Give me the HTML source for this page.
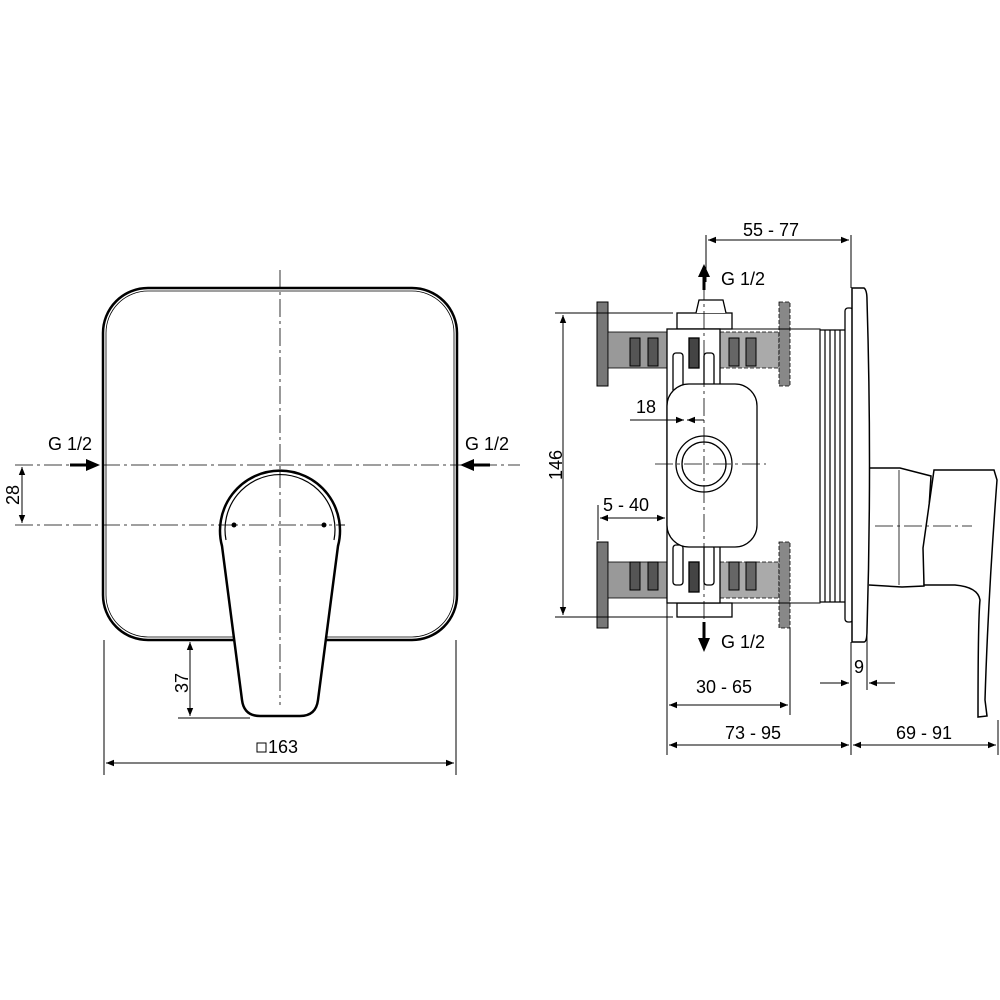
<!DOCTYPE html>
<html><head><meta charset="utf-8"><style>body{margin:0;background:#fff}svg{display:block}text{font-family:"Liberation Sans",sans-serif;font-size:18px;fill:#000}</style></head><body>
<svg width="1000" height="1000" viewBox="0 0 1000 1000" xmlns="http://www.w3.org/2000/svg">
<defs>
<marker id="a" viewBox="0 0 10 10" refX="10" refY="5" markerWidth="11" markerHeight="8" orient="auto-start-reverse" markerUnits="userSpaceOnUse"><path d="M0,1 L10,5 L0,9z" fill="#000"/></marker>
</defs>
<g fill="none" stroke="#000">
<rect x="103" y="288" width="354" height="352" rx="45" stroke-width="2.5"/>
<rect x="106" y="291" width="348" height="346" rx="42" stroke-width="0.8"/>
<g stroke-width="0.8" stroke-dasharray="18,4,3,4">
<line x1="280" y1="270" x2="280" y2="700"/>
<line x1="15" y1="465" x2="520" y2="465"/>
<line x1="15" y1="525" x2="345" y2="525"/>
</g>
<path d="M222,546 A60,60 0 1 1 338,546 L318,700 Q316,716 300,716 L260,716 Q244,716 242,700 Z" fill="#fff" stroke-width="2.5"/>
<path d="M226,540 A55,55 0 1 1 334,540" stroke-width="1.2"/>
<line x1="280" y1="470" x2="280" y2="705" stroke-width="0.8" stroke-dasharray="18,4,3,4"/>
<line x1="220" y1="525" x2="345" y2="525" stroke-width="0.8" stroke-dasharray="18,4,3,4"/>
</g>
<circle cx="234" cy="525" r="2.5"/><circle cx="324" cy="525" r="2.5"/>
<g fill="none" stroke="#000" stroke-width="1">
<line x1="22" y1="467" x2="22" y2="523" marker-start="url(#a)" marker-end="url(#a)"/>
<line x1="178" y1="718" x2="250" y2="718"/>
<line x1="190" y1="642" x2="190" y2="716" marker-start="url(#a)" marker-end="url(#a)"/>
<line x1="104" y1="640" x2="104" y2="775"/><line x1="456" y1="640" x2="456" y2="775"/>
<line x1="106" y1="763" x2="454" y2="763" marker-start="url(#a)" marker-end="url(#a)"/>
</g>
<g stroke="#000" stroke-width="3">
<line x1="70" y1="465" x2="88" y2="465"/><path d="M86,459 L100,465 L86,471z" stroke="none"/>
<line x1="472" y1="465" x2="490" y2="465"/><path d="M474,459 L460,465 L474,471z" stroke="none"/>
</g>
<text x="48" y="450">G 1/2</text><text x="465" y="450">G 1/2</text>
<text x="13" y="501" transform="rotate(-90 13 495)" text-anchor="middle">28</text>
<text x="182" y="689" transform="rotate(-90 182 683)" text-anchor="middle">37</text>
<rect x="257" y="743" width="9" height="9" fill="none" stroke="#000" stroke-width="1"/>
<text x="268" y="753">163</text>

<g stroke="#000">
<rect x="597" y="302" width="11" height="84" fill="#777" stroke-width="1"/>
<rect x="597" y="542" width="11" height="86" fill="#777" stroke-width="1"/>
<rect x="608" y="332" width="59" height="36" fill="#999" stroke-width="0.8"/>
<rect x="608" y="562" width="59" height="36" fill="#999" stroke-width="0.8"/>
<rect x="630" y="338" width="10" height="28" fill="#555"/><rect x="648" y="338" width="10" height="28" fill="#555"/>
<rect x="630" y="562" width="10" height="28" fill="#555"/><rect x="648" y="562" width="10" height="28" fill="#555"/>
<rect x="720" y="332" width="59" height="36" fill="#aaa" stroke-width="0.8" stroke-dasharray="4,2"/>
<rect x="720" y="562" width="59" height="36" fill="#aaa" stroke-width="0.8" stroke-dasharray="4,2"/>
<rect x="729" y="338" width="10" height="28" fill="#666"/><rect x="746" y="338" width="10" height="28" fill="#666"/>
<rect x="729" y="562" width="10" height="28" fill="#666"/><rect x="746" y="562" width="10" height="28" fill="#666"/>
<rect x="779" y="302" width="11" height="84" fill="#888" stroke-width="0.8" stroke-dasharray="4,2"/>
<rect x="779" y="542" width="11" height="86" fill="#888" stroke-width="0.8" stroke-dasharray="4,2"/>
</g>
<g fill="none" stroke="#000" stroke-width="1.3">
<rect x="677" y="313" width="55" height="16" fill="#fff"/>
<path d="M696,313 L699,300 L723,300 L726,313" fill="#fff"/>
<rect x="677" y="603" width="55" height="14" fill="#fff"/>
<rect x="667" y="329" width="53" height="274" fill="#fff"/>
<rect x="720" y="329" width="100" height="274" fill="none" stroke-width="1"/>
<rect x="673" y="353" width="10" height="40" rx="3"/><rect x="704" y="353" width="10" height="40" rx="3"/>
<rect x="673" y="545" width="10" height="40" rx="3"/><rect x="704" y="545" width="10" height="40" rx="3"/>
<rect x="689" y="338" width="10" height="30" fill="#444"/><rect x="689" y="562" width="10" height="30" fill="#444"/>
<rect x="667" y="384" width="90" height="163" rx="22" fill="#fff"/>
<circle cx="704" cy="464" r="28"/><circle cx="704" cy="464" r="22"/>
<g stroke-width="1.2"><line x1="820" y1="330" x2="820" y2="602"/><line x1="825" y1="330" x2="825" y2="602"/><line x1="830" y1="330" x2="830" y2="602"/><line x1="835" y1="330" x2="835" y2="602"/><line x1="840" y1="330" x2="840" y2="602"/><line x1="820" y1="330" x2="845" y2="330"/><line x1="820" y1="602" x2="845" y2="602"/></g>
<rect x="845" y="308" width="8" height="314" rx="3" fill="#fff"/>
<path d="M852,288 L864,288 Q867,290 867,300 Q872,465 867,630 Q867,642 864,642 L852,642 Z" fill="#fff" stroke-width="1.5"/>
<path d="M869,468 L900,468 L931,476 L924,586 L902,587 L869,585" stroke-width="1.5"/>
<line x1="899" y1="470" x2="899" y2="585" stroke-width="0.8"/>
<path d="M934,470 L994,470 L997,480 Q988,600 985,700 L987,716 L978,717 Q978,620 980,600 Q978,587 955,585 L924,585 L923,548 Z" fill="#fff" stroke-width="1.5"/>
</g>
<g stroke="#000" stroke-width="0.8" stroke-dasharray="18,4,3,4" fill="none">
<line x1="704" y1="282" x2="704" y2="635"/>
<line x1="655" y1="464" x2="766" y2="464"/>
<line x1="875" y1="526" x2="972" y2="526"/>
</g>
<g fill="none" stroke="#000" stroke-width="1">
<line x1="706" y1="235" x2="706" y2="282"/><line x1="851" y1="235" x2="851" y2="288"/>
<line x1="708" y1="240" x2="849" y2="240" marker-start="url(#a)" marker-end="url(#a)"/>
<line x1="555" y1="313" x2="673" y2="313"/><line x1="555" y1="617" x2="673" y2="617"/>
<line x1="563" y1="315" x2="563" y2="615" marker-start="url(#a)" marker-end="url(#a)"/>
<line x1="630" y1="420" x2="667" y2="420"/><line x1="667" y1="420" x2="684" y2="420" marker-end="url(#a)"/>
<line x1="704" y1="420" x2="687" y2="420" marker-end="url(#a)"/>
<line x1="598" y1="505" x2="598" y2="540"/>
<line x1="600" y1="518" x2="665" y2="518" marker-start="url(#a)" marker-end="url(#a)"/>
<line x1="667" y1="603" x2="667" y2="755"/><line x1="790" y1="628" x2="790" y2="715"/>
<line x1="669" y1="705" x2="788" y2="705" marker-start="url(#a)" marker-end="url(#a)"/>
<line x1="669" y1="745" x2="849" y2="745" marker-start="url(#a)" marker-end="url(#a)"/>
<line x1="851" y1="642" x2="851" y2="755"/><line x1="998" y1="720" x2="998" y2="755"/>
<line x1="853" y1="745" x2="996" y2="745" marker-start="url(#a)" marker-end="url(#a)"/>
<line x1="867" y1="630" x2="867" y2="690"/>
<line x1="820" y1="683" x2="849" y2="683" marker-end="url(#a)"/>
<line x1="895" y1="683" x2="869" y2="683" marker-end="url(#a)"/>
</g>
<g stroke="#000" stroke-width="3"><line x1="704" y1="290" x2="704" y2="275"/><line x1="704" y1="622" x2="704" y2="640"/></g>
<path d="M698,277 L704,264 L710,277z"/><path d="M698,638 L704,652 L710,638z"/>
<text x="743" y="236">55 - 77</text>
<text x="721" y="285">G 1/2</text>
<text x="721" y="648">G 1/2</text>
<text x="556" y="471" transform="rotate(-90 556 465)" text-anchor="middle">146</text>
<text x="636" y="413">18</text>
<text x="603" y="511">5 - 40</text>
<text x="696" y="693">30 - 65</text>
<text x="725" y="739">73 - 95</text>
<text x="896" y="739">69 - 91</text>
<text x="854" y="673">9</text>
</svg>
</body></html>
